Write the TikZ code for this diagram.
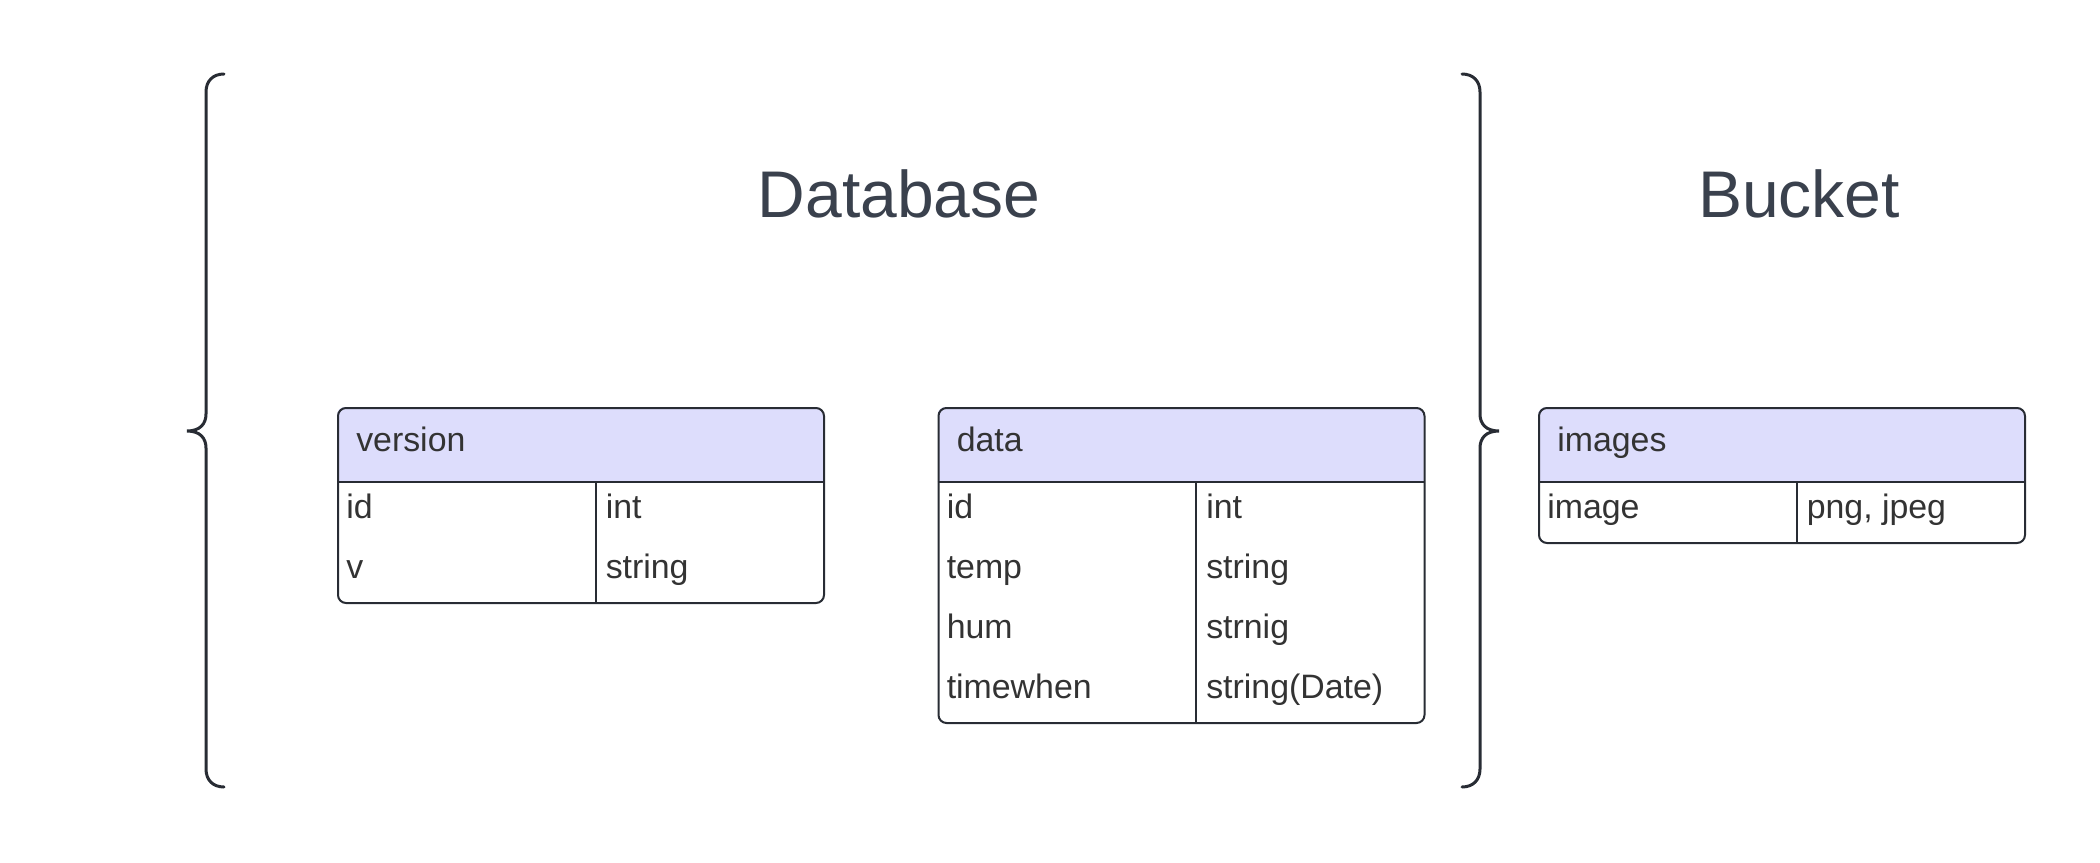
\documentclass[tikz,border=0pt]{standalone}
\usepackage{fontspec}
\setmainfont{Liberation Sans}
\definecolor{linec}{RGB}{40,44,52}
\definecolor{hdrfill}{RGB}{221,221,252}
\definecolor{txt}{RGB}{51,51,51}
\definecolor{ttl}{RGB}{58,65,77}
\tikzset{
  border/.style={draw=linec, line width=1.5pt},
  celltext/.style={anchor=base west, inner sep=0pt, font=\fontsize{25.4}{30}\selectfont, text=txt},
  titletext/.style={anchor=base, inner sep=0pt, font=\fontsize{49.5}{58}\selectfont, text=ttl},
  brace/.style={draw=linec, line width=2.25pt, line cap=round}
}
\newcommand{\dbtable}[5]{%
  \pgfmathsetmacro{\dbR}{#2+486}%
  \pgfmathsetmacro{\dbB}{482+60*#3}%
  \pgfmathsetmacro{\dbD}{#2+258.5}%
  \begin{scope}
    \clip[rounded corners=6pt] (#2,407) rectangle (\dbR,\dbB);
    \fill[hdrfill] (#2,407) rectangle (\dbR,482);
  \end{scope}
  \node[border, rounded corners=6pt, inner sep=0pt, anchor=north west,
        minimum width=486*0.75pt, minimum height=(\dbB-407)*0.75pt] (#1) at (#2,407) {};
  \draw[border] (#2,482) -- (\dbR,482);
  \draw[border] (\dbD,482) -- (\dbD,\dbB);
  \node[celltext] (#1-h) at (#2+19,451) {#4};
  \foreach \a/\b [count=\i] in {#5} {
    \node[celltext] (#1-l\i) at (#2+9,482+60*\i-24) {\a};
    \node[celltext] (#1-r\i) at (\dbD+10,482+60*\i-24) {\b};
  }
}
\begin{document}
\begin{tikzpicture}[x=0.75pt,y=-0.75pt]
\useasboundingbox (0,0) rectangle (2100,863);
% titles
\node[titletext] (dbtitle) at (899,218) {Database};
\node[titletext] (bktitle) at (1799,218) {Bucket};
% braces
\draw[brace] (224,74) .. controls (213,74) and (206,81) .. (206,92)
  -- (206,414) .. controls (206,424) and (200,431) .. (187,431)
  .. controls (200,431) and (206,438) .. (206,448)
  -- (206,769) .. controls (206,780) and (213,787) .. (224,787);
\draw[brace] (1462,74) .. controls (1473,74) and (1480,81) .. (1480,92)
  -- (1480,414) .. controls (1480,424) and (1486,431) .. (1499,431)
  .. controls (1486,431) and (1480,438) .. (1480,448)
  -- (1480,769) .. controls (1480,780) and (1473,787) .. (1462,787);
% tables
\dbtable{ver}{337}{2}{version}{id/int, v/string}
\dbtable{dat}{937.5}{4}{data}{id/int, temp/string, hum/strnig, timewhen/string(Date)}
\dbtable{img}{1538}{1}{images}{image/{png, jpeg}}
\end{tikzpicture}
\end{document}
